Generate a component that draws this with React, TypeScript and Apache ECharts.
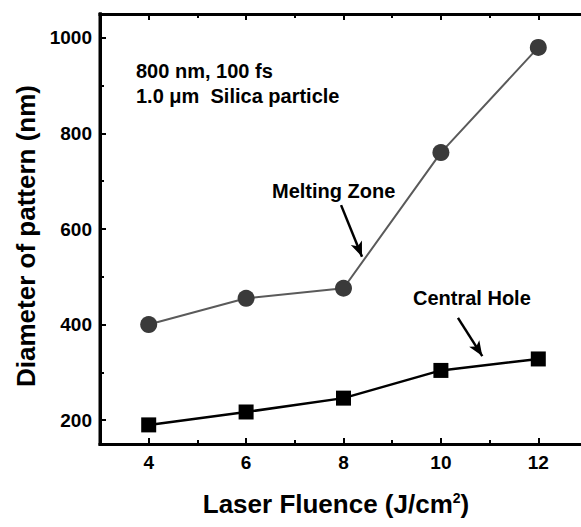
import React, { useEffect, useRef } from "react";
import * as echarts from "echarts";

const meltingX = [4, 6, 8, 10, 12];
const meltingY = [400, 455, 476, 760, 980];
const holeX = [4, 6, 8, 10, 12];
const holeY = [190, 217, 246, 304, 328];
const xMajor = [4, 6, 8, 10, 12];
const xMinor = [5, 7, 9, 11];
const yMajor = [200, 400, 600, 800, 1000];
const yMinor = [300, 500, 700, 900];
const meltingArrow = [[7.95, 650], [8.38, 542]];
const holeArrow = [[10.35, 414], [10.85, 334]];

const FONT = "'Liberation Sans', Arial, sans-serif";
const GRID = { left: 100, top: 14, right: -6, bottom: 83 };
const W = 581;
const H = 527;

export default function App() {
  const ref = useRef<HTMLDivElement>(null);
  useEffect(() => {
    if (!ref.current) return;
    const chart = echarts.init(ref.current, null, { renderer: "svg" });
    const axisLine = { show: true, onZero: false, lineStyle: { color: "#000", width: 3, cap: "square" } };
    const labelStyle = { color: "#000", fontFamily: FONT, fontWeight: "bold", fontSize: 19, formatter: (v: number) => String(v) };
    const mkX = (pos: string, major: boolean, line: boolean, label: boolean) => ({
      type: "value",
      position: pos,
      min: 3,
      max: 13,
      z: 5,
      axisLine: line ? axisLine : { show: false, onZero: false },
      axisTick: {
        show: true,
        inside: true,
        length: major ? 6 : 4,
        lineStyle: { color: "#000", width: 2 },
        customValues: major ? xMajor : xMinor,
      },
      axisLabel: label ? { show: true, customValues: xMajor, margin: 9, ...labelStyle } : { show: false },
      splitLine: { show: false },
    });
    const mkY = (pos: string, major: boolean, line: boolean, label: boolean) => ({
      type: "value",
      position: pos,
      min: 150,
      max: 1050,
      z: 5,
      axisLine: line ? axisLine : { show: false, onZero: false },
      axisTick: {
        show: true,
        inside: true,
        length: major ? 6 : 4,
        lineStyle: { color: "#000", width: 2 },
        customValues: major ? yMajor : yMinor,
      },
      axisLabel: label ? { show: true, customValues: yMajor, margin: 8, ...labelStyle } : { show: false },
      splitLine: { show: false },
    });
    const txt = (x: number, y: number, text: string) => ({
      type: "text",
      x,
      y,
      style: { text, font: `bold 20px ${FONT}`, fill: "#000", verticalAlign: "middle", align: "left" },
    });
    chart.setOption({
      animation: false,
      backgroundColor: "#fff",
      grid: {
        show: false,
        ...GRID,
        containLabel: false,
        outerBoundsMode: "none",
      },
      xAxis: [
        mkX("bottom", true, true, true),
        mkX("bottom", false, false, false),
        mkX("top", true, true, false),
        mkX("top", false, false, false),
      ],
      yAxis: [
        mkY("left", true, true, true),
        mkY("left", false, false, false),
        mkY("right", true, true, false),
        mkY("right", false, false, false),
      ],
      series: [
        {
          name: "Melting Zone",
          type: "line",
          data: meltingX.map((x, i) => [x, meltingY[i]]),
          symbol: "circle",
          symbolSize: 17,
          lineStyle: { color: "#5a5a5a", width: 2 },
          itemStyle: { color: "#3a3a3a" },
          markLine: {
            silent: true,
            symbol: ["none", "arrow"],
            symbolSize: [9, 15],
            label: { show: false },
            lineStyle: { color: "#000", width: 2.5, type: "solid" },
            data: [[{ coord: meltingArrow[0] }, { coord: meltingArrow[1] }]],
          },
        },
        {
          name: "Central Hole",
          type: "line",
          data: holeX.map((x, i) => [x, holeY[i]]),
          symbol: "rect",
          symbolSize: 15,
          lineStyle: { color: "#000", width: 2.5 },
          itemStyle: { color: "#000" },
          markLine: {
            silent: true,
            symbol: ["none", "arrow"],
            symbolSize: [9, 15],
            label: { show: false },
            lineStyle: { color: "#000", width: 2.5, type: "solid" },
            data: [[{ coord: holeArrow[0] }, { coord: holeArrow[1] }]],
          },
        },
      ],
      graphic: [
        {
          type: "line",
          z: 100,
          shape: { x1: GRID.left, y1: GRID.top - 1.5, x2: GRID.left, y2: H - GRID.bottom + 1.5 },
          style: { stroke: "#000", lineWidth: 3 },
        },
        txt(136, 71, "800 nm, 100 fs"),
        txt(136, 96, "1.0 μm  Silica particle"),
        txt(272, 191, "Melting Zone"),
        txt(413, 298, "Central Hole"),
        {
          type: "text",
          x: 336,
          y: 504,
          style: {
            text: "Laser Fluence (J/cm{sup|2})",
            font: `bold 26px ${FONT}`,
            fill: "#000",
            align: "center",
            verticalAlign: "middle",
            rich: { sup: { font: `bold 14px ${FONT}`, verticalAlign: "top", padding: [0, 0, 12, 0] } },
          },
        },
        {
          type: "text",
          x: 26,
          y: 236,
          rotation: Math.PI / 2,
          style: {
            text: "Diameter of pattern (nm)",
            font: `bold 26px ${FONT}`,
            fill: "#000",
            align: "center",
            verticalAlign: "middle",
          },
        },
      ],
    });
    return () => chart.dispose();
  }, []);
  return <div ref={ref} style={{ position: "fixed", left: 0, top: 0, width: W, height: H }} />;
}
